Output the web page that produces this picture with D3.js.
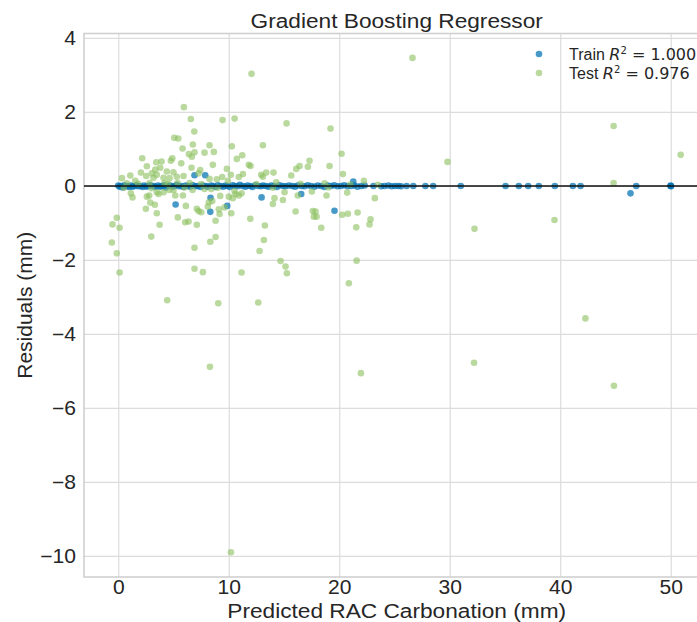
<!DOCTYPE html>
<html>
<head>
<meta charset="utf-8">
<script src="https://cdn.jsdelivr.net/npm/d3@7"></script>
<style>
  body { margin: 0; background: #fff; }
  text { font-family: "Liberation Sans", Arial, sans-serif; fill: #262626; }
</style>
</head>
<body>
<div id="visualization"></div>
<script>
// ---- chart values ----
const xTicks = [0, 10, 20, 30, 40, 50];
const yTicks = [-10, -8, -6, -4, -2, 0, 2, 4];
const trainScore = "1.000";
const testScore = "0.976";

// [predicted, residual]
const trainPoints = [
  [0.0,0.01],[0.12,-0.02],[0.25,0.0],[0.4,-0.04],[0.55,0.02],[0.7,-0.01],[0.85,0.0],[1.0,-0.03],
  [1.15,0.01],[1.3,-0.02],[1.5,0.0],[1.65,0.02],[1.8,-0.01],[2.0,0.0],[2.2,-0.03],[2.35,0.01],
  [2.55,-0.02],[2.7,0.0],[2.9,0.02],[3.05,-0.01],[3.25,0.0],[3.4,-0.03],[3.6,0.01],[3.8,-0.02],
  [3.95,0.0],[4.15,0.02],[4.3,-0.04],[4.5,0.0],[4.7,0.01],[4.9,-0.02],[5.1,0.0],[5.19,-0.5],
  [5.3,0.03],[5.5,-0.01],[5.7,0.0],[5.9,-0.03],[6.1,0.01],[6.3,0.0],[6.5,-0.02],[6.75,0.02],
  [6.9,0.29],[7.0,-0.01],[7.2,0.0],[7.45,-0.03],[7.65,0.01],[7.87,0.29],[7.9,0.0],[8.1,-0.02],
  [8.33,-0.70],[8.35,-0.32],[8.4,0.01],[8.6,0.0],[8.8,-0.03],[9.0,0.02],[9.25,0.0],[9.5,-0.02],
  [9.7,0.01],[9.86,-0.54],[9.9,0.0],[10.1,-0.03],[10.35,0.02],[10.55,0.0],[10.8,-0.01],[11.0,0.03],
  [11.25,0.0],[11.5,-0.02],[11.7,0.01],[11.95,0.0],[12.15,-0.03],[12.4,0.02],[12.65,0.0],[12.9,-0.01],
  [12.97,-0.31],[13.1,0.01],[13.35,0.0],[13.6,-0.02],[13.85,0.01],[14.1,0.0],[14.35,-0.03],[14.6,0.02],
  [14.9,0.0],[15.15,-0.01],[15.45,0.01],[15.75,0.0],[16.0,-0.02],[16.25,0.01],[16.56,-0.22],[16.6,0.0],
  [16.85,-0.01],[17.15,0.02],[17.45,0.0],[17.75,-0.02],[18.05,0.01],[18.35,0.0],[18.65,-0.03],[18.95,0.01],
  [19.25,0.0],[19.57,-0.67],[19.55,0.02],[19.85,-0.01],[20.15,0.0],[20.45,0.02],[20.75,-0.01],[21.05,0.0],
  [21.27,0.12],[21.35,0.01],[21.65,-0.02],[22.0,0.0],[22.3,0.01],[23.1,0.0],[23.8,-0.01],[24.1,0.0],
  [24.45,0.01],[24.75,-0.01],[25.05,0.0],[25.35,0.0],[25.6,-0.01],[26.1,0.0],[26.7,0.0],[27.8,0.0],
  [28.5,0.0],[31.0,0.0],[35.05,0.0],[36.25,0.0],[37.1,0.0],[38.06,0.0],[39.51,0.0],[41.14,0.0],
  [41.84,0.0],[46.36,-0.2],[46.88,0.0],[49.98,0.0],[50.0,0.01],[50.03,-0.01]
];

const testPoints = [
  [5.94,2.13],[6.57,1.81],[6.88,1.47],[5.07,1.30],[5.43,1.28],[5.82,1.01],[6.75,1.12],[6.39,0.86],
  [6.66,0.79],[6.90,0.91],[2.17,0.75],[2.59,0.53],[3.44,0.64],[3.92,0.66],[4.89,0.75],[4.76,0.68],
  [5.70,0.61],[6.63,0.49],[3.80,0.49],[3.35,0.44],[3.04,0.34],[3.49,0.30],[2.05,0.36],[2.53,0.27],
  [1.09,0.28],[0.33,0.21],[4.40,0.39],[5.00,0.37],[5.30,0.25],[5.91,0.27],[4.10,0.22],[4.64,0.21],
  [3.19,0.22],[1.54,0.14],[0.78,0.07],[7.27,0.34],[2.83,0.08],[4.19,0.08],[5.37,0.08],[6.46,0.08],
  [9.44,1.78],[10.53,1.82],[15.23,1.69],[8.26,1.10],[7.81,0.90],[8.65,0.92],[10.28,1.07],[13.09,1.10],
  [11.22,0.83],[10.73,0.73],[8.56,0.57],[11.82,0.57],[11.97,0.54],[9.83,0.46],[7.42,0.43],[17.31,0.68],
  [17.16,0.52],[16.41,0.54],[16.11,0.46],[10.19,0.30],[11.28,0.32],[10.91,0.24],[12.94,0.30],[13.39,0.36],
  [14.05,0.36],[13.09,0.25],[15.66,0.28],[8.92,0.18],[9.41,0.24],[9.92,0.14],[8.26,0.19],[14.30,0.10],
  [19.21,1.55],[20.21,0.87],[19.12,0.54],[20.33,0.32],[22.23,0.14],[18.67,0.07],
  [1.14,-0.20],[1.29,-0.31],[2.59,-0.29],[2.81,-0.26],[3.49,-0.17],[3.65,-0.22],[4.10,-0.17],[4.62,-0.11],
  [5.00,-0.11],[5.16,-0.26],[5.85,-0.26],[6.72,-0.11],[2.90,-0.45],[3.31,-0.51],[2.50,-0.62],[6.12,-0.54],
  [7.11,-0.62],[7.27,-0.68],[3.49,-0.74],[-0.13,-0.86],[5.39,-0.85],[-0.52,-1.04],[0.12,-1.13],[3.74,-1.05],
  [6.06,-0.98],[6.36,-0.96],[7.11,-1.05],[2.99,-1.37],[-0.58,-1.53],[-0.13,-1.82],[6.90,-1.67],[0.12,-2.34],
  [6.90,-2.24],[4.43,-3.09],
  [7.81,-0.08],[8.42,-0.08],[9.23,-0.27],[10.01,-0.29],[10.37,-0.33],[10.62,-0.22],[10.91,-0.26],[11.16,-0.20],
  [10.52,-0.14],[15.05,-0.17],[14.14,-0.33],[14.90,-0.38],[13.99,-0.49],[16.25,-0.26],[17.52,-0.15],[8.20,-0.44],
  [8.51,-0.41],[8.11,-0.56],[9.10,-0.63],[9.62,-0.58],[7.51,-0.71],[9.17,-0.76],[10.23,-0.74],[16.05,-0.69],
  [17.61,-0.68],[17.70,-0.83],[11.95,-0.89],[8.81,-0.94],[13.27,-1.07],[8.81,-1.38],[8.33,-1.51],[13.18,-1.46],
  [12.79,-1.76],[14.69,-2.03],[15.14,-2.18],[15.26,-2.36],[7.66,-2.33],[11.16,-2.34],[9.05,-3.17],[12.67,-3.15],
  [18.85,-0.26],[20.72,-0.18],[23.22,-0.33],[20.27,-0.78],[20.78,-0.75],[21.66,-0.72],[17.86,-0.69],[17.95,-0.83],
  [22.83,-0.90],[22.74,-1.04],[18.37,-1.13],[21.54,-1.12],[21.57,-2.02],[20.87,-2.63],
  [26.63,3.46],[12.06,3.03],[44.83,1.62],[50.9,0.84],[29.80,0.65],[44.83,0.08],[39.48,-0.92],[32.24,-1.16],
  [42.28,-3.58],[8.30,-4.89],[21.96,-5.06],[32.20,-4.78],[44.86,-5.40],[10.20,-9.90],
  [12.5,0.05],[14.0,-0.05],[16.5,0.06],[19.0,-0.04],[21.0,0.04],[23.5,0.03],[0.5,-0.05],[1.8,0.06],
  [3.0,-0.06],[4.5,0.05],[6.0,-0.04],[7.5,0.05],[9.0,-0.05]
];

const trainColor = "#0072B2";
const testColor = "#8cbf5f";

function createResiduals() {
  const width = 697, height = 622;
  const plot = { left: 84, right: 709.4, top: 33.5, bottom: 577 };
  const stretch = 1.08; // text in the picture is a little wide

  const svg = d3.select("#visualization")
    .append("svg")
      .attr("width", width)
      .attr("height", height);

  const x = d3.scaleLinear().domain([-3.1, 53.5]).range([plot.left, plot.right]);
  const y = d3.scaleLinear().domain([-10.57, 4.12]).range([plot.bottom, plot.top]);

  svg.append("defs").append("clipPath").attr("id", "clip")
    .append("rect")
      .attr("x", plot.left).attr("y", plot.top)
      .attr("width", plot.right - plot.left).attr("height", plot.bottom - plot.top);

  // grid
  svg.append("g")
    .attr("transform", `translate(0,${plot.bottom})`)
    .call(d3.axisBottom(x).tickValues(xTicks).tickSize(-(plot.bottom - plot.top)).tickFormat(""))
    .call(g => g.select(".domain").remove())
    .selectAll("line").attr("stroke", "#dcdcdc").attr("stroke-width", 1.2);

  svg.append("g")
    .attr("transform", `translate(${plot.left},0)`)
    .call(d3.axisLeft(y).tickValues(yTicks).tickSize(-(plot.right - plot.left)).tickFormat(""))
    .call(g => g.select(".domain").remove())
    .selectAll("line").attr("stroke", "#dcdcdc").attr("stroke-width", 1.2);

  // frame
  svg.append("rect")
    .attr("x", plot.left).attr("y", plot.top)
    .attr("width", plot.right - plot.left).attr("height", plot.bottom - plot.top)
    .attr("fill", "none").attr("stroke", "#d0d0d0").attr("stroke-width", 1.6);

  const pts = svg.append("g").attr("clip-path", "url(#clip)");

  pts.selectAll("circle.train")
    .data(trainPoints)
    .join("circle")
      .attr("class", "train")
      .attr("cx", d => x(d[0]))
      .attr("cy", d => y(d[1]))
      .attr("r", 3.3)
      .attr("fill", trainColor)
      .attr("fill-opacity", 0.72);

  pts.selectAll("circle.test")
    .data(testPoints)
    .join("circle")
      .attr("class", "test")
      .attr("cx", d => x(d[0]))
      .attr("cy", d => y(d[1]))
      .attr("r", 3.3)
      .attr("fill", testColor)
      .attr("fill-opacity", 0.6);

  // zero line
  pts.append("line")
    .attr("x1", plot.left).attr("x2", plot.right)
    .attr("y1", y(0)).attr("y2", y(0))
    .attr("stroke", "#111").attr("stroke-width", 1.5);

  // tick labels
  svg.append("g")
    .attr("transform", `translate(0,${plot.bottom})`)
    .call(d3.axisBottom(x).tickValues(xTicks).tickSize(0).tickPadding(3))
    .call(g => g.select(".domain").remove())
    .selectAll("text")
      .style("font-family", "Liberation Sans, Arial, sans-serif")
      .style("font-size", "19.5px")
      .attr("fill", "#262626")
      .attr("transform", `scale(${stretch},1)`);

  svg.append("g")
    .attr("transform", `translate(${plot.left - 8},0)`)
    .call(d3.axisLeft(y).tickValues(yTicks).tickSize(0).tickPadding(0)
      .tickFormat(d => d < 0 ? "\u2212" + Math.abs(d) : d))
    .call(g => g.select(".domain").remove())
    .selectAll("text")
      .style("font-family", "Liberation Sans, Arial, sans-serif")
      .style("font-size", "19.5px")
      .attr("fill", "#262626")
      .attr("transform", `scale(${stretch},1)`);

  // titles
  const midX = (plot.left + plot.right) / 2;
  svg.append("text")
    .attr("transform", `translate(${midX},28) scale(${stretch},1)`)
    .style("text-anchor", "middle")
    .style("font-size", "21px")
    .text("Gradient Boosting Regressor");

  svg.append("text")
    .attr("transform", `translate(${midX},617.5) scale(${stretch},1)`)
    .style("text-anchor", "middle")
    .style("font-size", "21px")
    .text("Predicted RAC Carbonation (mm)");

  svg.append("text")
    .attr("transform", `translate(32,${(plot.top + plot.bottom) / 2}) rotate(-90)`)
    .style("text-anchor", "middle")
    .style("font-size", "21px")
    .text("Residuals (mm)");

  // legend
  const legend = [
    { name: "Train ", score: trainScore, color: trainColor, op: 0.72, y: 54 },
    { name: "Test ", score: testScore, color: testColor, op: 0.6, y: 73 }
  ];
  legend.forEach(l => {
    svg.append("circle")
      .attr("cx", 539).attr("cy", l.y).attr("r", 3.3)
      .attr("fill", l.color).attr("fill-opacity", l.op);
    const t = svg.append("text")
      .attr("x", 569).attr("y", l.y + 5.5)
      .style("font-size", "16px");
    t.append("tspan").text(l.name);
    t.append("tspan").style("font-family", "DejaVu Sans").style("font-style", "italic").text("R");
    t.append("tspan").style("font-family", "DejaVu Sans").style("font-size", "10px")
      .attr("dy", -6).text("2");
    t.append("tspan").style("font-family", "DejaVu Sans")
      .attr("dy", 6).text(" = " + l.score);
  });
}

createResiduals();
</script>
</body>
</html>
